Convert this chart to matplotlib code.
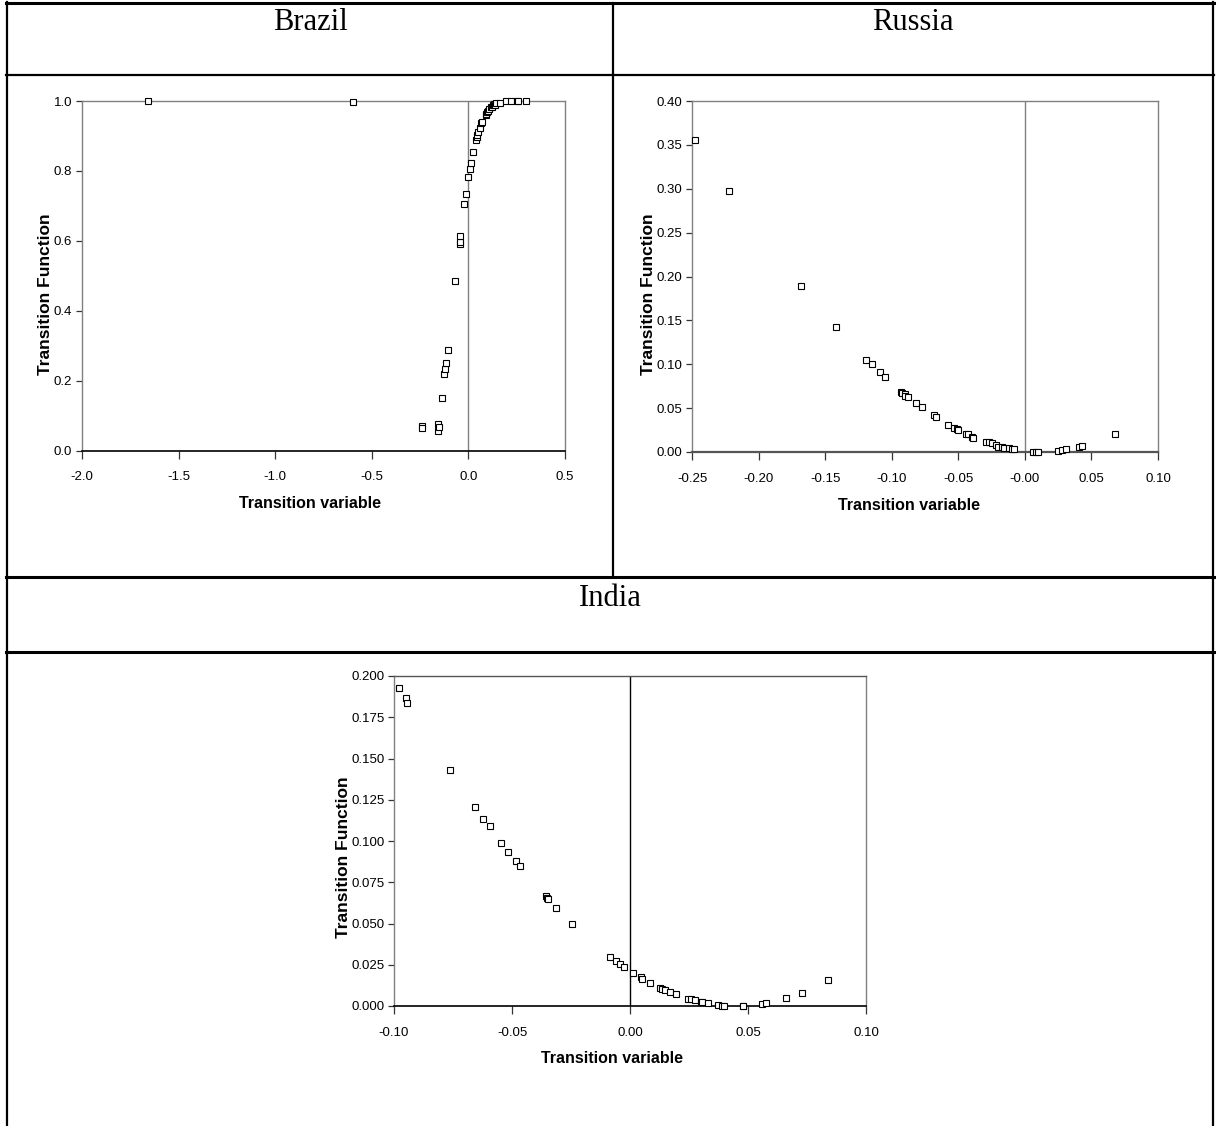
import matplotlib.pyplot as plt
from matplotlib.lines import Line2D

# Brazil: transition variable vs transition function
brazil_x = [-1.658, -0.595, -0.241, -0.240, -0.156, -0.156, -0.154, -0.135, -0.124,
            -0.120, -0.115, -0.105, -0.068, -0.046, -0.045, -0.043, -0.022, -0.015,
            0.000, 0.006, 0.013, 0.023, 0.040, 0.043, 0.047, 0.052, 0.058, 0.065,
            0.070, 0.089, 0.092, 0.098, 0.104, 0.107, 0.116, 0.122, 0.127, 0.134,
            0.139, 0.143, 0.165, 0.196, 0.220, 0.250, 0.256, 0.299]
brazil_y = [1.000, 0.998, 0.069, 0.063, 0.076, 0.057, 0.067, 0.150, 0.218,
            0.234, 0.250, 0.287, 0.485, 0.590, 0.597, 0.613, 0.705, 0.733,
            0.782, 0.805, 0.823, 0.853, 0.888, 0.898, 0.903, 0.912, 0.922, 0.936,
            0.941, 0.960, 0.963, 0.969, 0.972, 0.976, 0.984, 0.982, 0.989, 0.991,
            0.989, 0.993, 0.993, 0.999, 1.000, 1.000, 1.000, 1.000]

# Russia
russia_x = [-0.248, -0.222, -0.168, -0.142, -0.119, -0.115, -0.109, -0.105,
            -0.093, -0.092, -0.090, -0.090, -0.088, -0.082, -0.077, -0.068, -0.067,
            -0.058, -0.053, -0.051, -0.050, -0.044, -0.043, -0.040, -0.039,
            -0.029, -0.027, -0.025, -0.022, -0.020, -0.017, -0.016, -0.012,
            -0.010, -0.008, 0.006, 0.008, 0.010, 0.025, 0.028, 0.031, 0.041,
            0.043, 0.068]
russia_y = [0.356, 0.298, 0.189, 0.142, 0.105, 0.100, 0.091, 0.085,
            0.068, 0.067, 0.066, 0.064, 0.063, 0.056, 0.051, 0.042, 0.040,
            0.031, 0.027, 0.026, 0.025, 0.021, 0.020, 0.017, 0.016,
            0.011, 0.011, 0.010, 0.008, 0.006, 0.006, 0.005, 0.004,
            0.003, 0.003, 0.000, 0.000, 0.000, 0.001, 0.002, 0.003, 0.006,
            0.007, 0.020]

# India
india_x = [-0.0979, -0.0951, -0.0943, -0.0762, -0.0657, -0.0621, -0.0595, -0.0545,
           -0.0516, -0.0484, -0.0466, -0.0357, -0.0353, -0.0348, -0.0313, -0.0246,
           -0.0084, -0.0061, -0.0042, -0.0024, 0.0014, 0.0046, 0.0049, 0.0084,
           0.0128, 0.0137, 0.0149, 0.0171, 0.0193, 0.0246, 0.0259, 0.0274, 0.0299,
           0.0307, 0.0330, 0.0371, 0.0390, 0.0398, 0.0478, 0.0480, 0.0560, 0.0577,
           0.0663, 0.0729, 0.0841]
india_y = [0.1927, 0.1867, 0.1839, 0.1430, 0.1208, 0.1134, 0.1088, 0.0987,
           0.0933, 0.0880, 0.0846, 0.0665, 0.0655, 0.0649, 0.0594, 0.0497,
           0.0300, 0.0272, 0.0256, 0.0238, 0.0201, 0.0175, 0.0165, 0.0141,
           0.0111, 0.0105, 0.0095, 0.0085, 0.0070, 0.0044, 0.0040, 0.0034, 0.0026,
           0.0024, 0.0016, 0.0006, 0.0002, 0.0002, 0.0000, 0.0000, 0.0010, 0.0016,
           0.0050, 0.0081, 0.0157]

brazil_xticks = [-2.0, -1.5, -1.0, -0.5, 0.0, 0.5]
brazil_xlabels = ['-2.0', '-1.5', '-1.0', '-0.5', '0.0', '0.5']
brazil_yticks = [0.0, 0.2, 0.4, 0.6, 0.8, 1.0]
brazil_ylabels = ['0.0', '0.2', '0.4', '0.6', '0.8', '1.0']

russia_xticks = [-0.25, -0.20, -0.15, -0.10, -0.05, 0.0, 0.05, 0.10]
russia_xlabels = ['-0.25', '-0.20', '-0.15', '-0.10', '-0.05', '-0.00', '0.05', '0.10']
russia_yticks = [0.0, 0.05, 0.10, 0.15, 0.20, 0.25, 0.30, 0.35, 0.40]
russia_ylabels = ['0.00', '0.05', '0.10', '0.15', '0.20', '0.25', '0.30', '0.35', '0.40']

india_xticks = [-0.10, -0.05, 0.0, 0.05, 0.10]
india_xlabels = ['-0.10', '-0.05', '0.00', '0.05', '0.10']
india_yticks = [0.0, 0.025, 0.05, 0.075, 0.10, 0.125, 0.15, 0.175, 0.20]
india_ylabels = ['0.000', '0.025', '0.050', '0.075', '0.100', '0.125', '0.150', '0.175', '0.200']

W, H = 1216, 1126
narrow = ['Liberation Sans Narrow', 'Liberation Sans', 'DejaVu Sans']
serif = ['Liberation Serif', 'DejaVu Serif']

fig = plt.figure(figsize=(W / 100, H / 100), dpi=100)


def px_axes(l, r, t, b):
    return fig.add_axes([l / W, 1 - b / H, (r - l) / W, (b - t) / H])


def panel(ax, x, y, xlim, ylim, xt, xl, yt, yl, lab_pos, bottom_col, vline_col, bottom_lw=1.2):
    ax.plot(x, y, linestyle='none', marker='s', markersize=4.8,
            markerfacecolor='white', markeredgecolor='black', markeredgewidth=0.8,
            clip_on=False, zorder=3)
    ax.axvline(0, color=vline_col, lw=1.0, zorder=1)
    ax.set_xlim(*xlim)
    ax.set_ylim(*ylim)
    ax.set_xticks(xt)
    ax.set_xticklabels(xl)
    ax.set_yticks(yt)
    ax.set_yticklabels(yl)
    for lab in ax.get_xticklabels() + ax.get_yticklabels():
        lab.set_family(narrow)
        lab.set_fontsize(9.5)
        lab.set_color('black')
    ax.tick_params(axis='x', direction='out', length=6, width=0.9, pad=9, color='#333333')
    ax.tick_params(axis='y', direction='out', length=4, width=0.9, pad=3, color='#333333')
    for s in ['top', 'right', 'left']:
        ax.spines[s].set_color('#808080')
        ax.spines[s].set_linewidth(1.0)
    ax.spines['bottom'].set_color(bottom_col)
    ax.spines['bottom'].set_linewidth(bottom_lw)
    ax.set_xlabel('Transition variable', family=narrow, fontsize=11.5, fontweight='bold')
    ax.set_ylabel('Transition Function', family=['Liberation Sans', 'DejaVu Sans'],
                  fontsize=12.5, fontweight='bold')
    xlx, xly, ylx, yly = lab_pos
    ax.xaxis.set_label_coords(xlx, xly)
    ax.xaxis.label.set_verticalalignment('center')
    ax.yaxis.set_label_coords(ylx, yly)
    ax.yaxis.label.set_verticalalignment('center')


ax1 = px_axes(82, 565, 101, 450.5)
panel(ax1, brazil_x, brazil_y, (-2.0, 0.5), (0.0, 1.0), brazil_xticks, brazil_xlabels,
      brazil_yticks, brazil_ylabels, (0.472, -0.153, -0.075, 0.448), 'black', '#808080')

ax2 = px_axes(692, 1158, 101, 452)
panel(ax2, russia_x, russia_y, (-0.25, 0.10), (0.0, 0.40), russia_xticks, russia_xlabels,
      russia_yticks, russia_ylabels, (0.466, -0.151, -0.094, 0.45), '#555555', '#808080', 1.6)

ax3 = px_axes(394, 866, 676, 1006)
panel(ax3, india_x, india_y, (-0.10, 0.10), (0.0, 0.20), india_xticks, india_xlabels,
      india_yticks, india_ylabels, (0.462, -0.158, -0.106, 0.452), 'black', 'black')
ax3.spines['top'].set_color('#555555')


# table grid around the panels
def hline(y, x0, x1, lw):
    fig.add_artist(Line2D([x0 / W, x1 / W], [1 - y / H, 1 - y / H], color='black', lw=lw))


def vline(x, y0, y1, lw):
    fig.add_artist(Line2D([x / W, x / W], [1 - y0 / H, 1 - y1 / H], color='black', lw=lw))


hline(3, 6, 1214, 2.2)
hline(75, 6, 1214, 1.6)
hline(577, 6, 1214, 2.2)
hline(652, 6, 1214, 2.2)
vline(7, 2, 1126, 1.6)
vline(1213, 2, 1126, 1.6)
vline(613, 3, 577, 1.6)

fig.text(310 / W, 1 - 23 / H, 'Brazil', family=serif, fontsize=22, ha='center', va='center')
fig.text(913 / W, 1 - 23 / H, 'Russia', family=serif, fontsize=22, ha='center', va='center')
fig.text(610 / W, 1 - 598 / H, 'India', family=serif, fontsize=22, ha='center', va='center')

fig.savefig('out.png', dpi=100)
